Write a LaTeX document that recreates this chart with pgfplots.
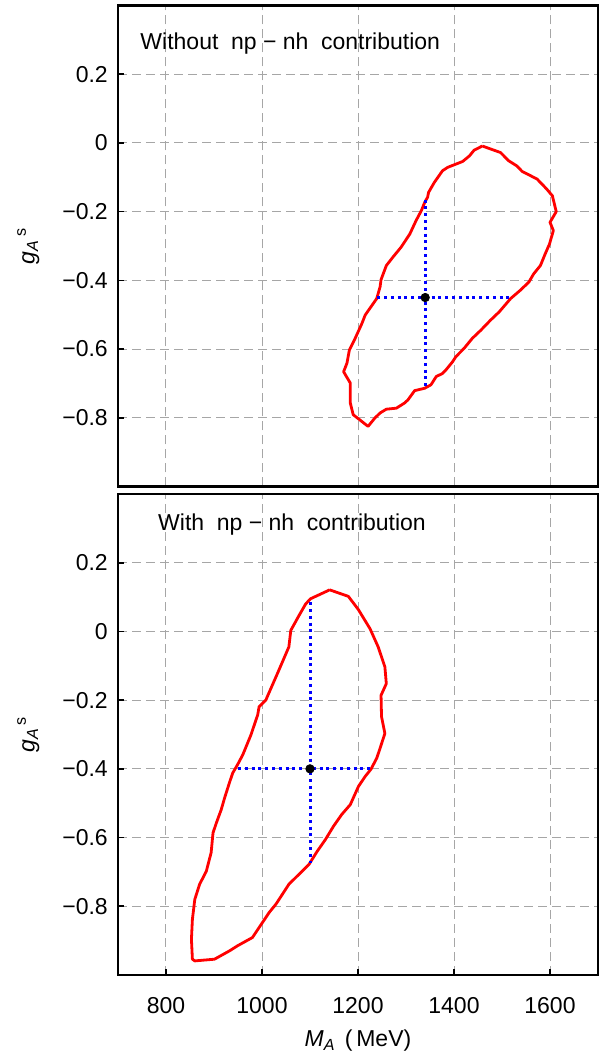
\documentclass[border=0pt]{standalone}
\usepackage{fontspec}
\setmainfont{Liberation Sans}
\usepackage{pgfplots}
\pgfplotsset{compat=1.18}

\newcommand{\lbl}{\fontsize{11.5}{13}\selectfont}

% shared look of both panels
\pgfplotsset{
  panel/.style={
    scale only axis,
    width=240pt, height=240.5pt,
    anchor=south west,
    xmin=700, xmax=1700, ymin=-1, ymax=0.4,
    xtick={800,1000,1200,1400,1600},
    xticklabels={800,1000,1200,1400,1600},
    ytick={-0.8,-0.6,-0.4,-0.2,0,0.2},
    yticklabels={−0.8,−0.6,−0.4,−0.2,0,0.2},
    tick align=inside,
    xtick pos=bottom, ytick pos=left,
    major tick length=3pt,
    tick style={black, line width=0.8pt},
    axis line style={line width=1.3pt},
    grid=major,
    major grid style={gray!70, line width=0.5pt, dash pattern=on 4.5pt off 2.5pt},
    tick label style={font=\lbl},
    yticklabel style={xshift=-1.6pt},
    xticklabel style={yshift=-7.5pt},
    ylabel={\itshape g\textsubscript{\itshape A}\upshape\textsuperscript{\,s}},
    ylabel style={font=\lbl, at={(axis description cs:-0.187,0.5)}, anchor=center},
    clip=false,
  },
  contour/.style={red, line width=1.4pt, line join=round},
  cross/.style={blue, line width=1.5pt, dash pattern=on 1.5pt off 1.9pt},
  best/.style={only marks, mark=*, mark size=2.1pt, black},
}

\begin{document}
\begin{tikzpicture}

% top panel: without np-nh
\begin{axis}[panel, at={(59pt,285.25pt)}, xticklabels={}, xtick style={draw=none}]
\addplot[contour] coordinates {
(1459,-0.009) (1497,-0.028) (1514,-0.052) (1531,-0.067) (1542,-0.083)
(1573,-0.105) (1593,-0.134) (1605,-0.154) (1613,-0.200) (1600,-0.231)
(1607,-0.255) (1599,-0.294) (1590,-0.323) (1580,-0.357) (1566,-0.381)
(1556,-0.405) (1538,-0.429) (1518,-0.453) (1494,-0.492) (1476,-0.516)
(1456,-0.545) (1438,-0.569) (1421,-0.598) (1404,-0.622) (1397,-0.637)
(1383,-0.661) (1376,-0.671) (1363,-0.680) (1352,-0.704) (1339,-0.714)
(1318,-0.721) (1304,-0.748) (1297,-0.757) (1280,-0.772) (1259,-0.775)
(1246,-0.786) (1235,-0.801) (1221,-0.825) (1190,-0.791) (1184,-0.757)
(1184,-0.699) (1170,-0.666) (1177,-0.641) (1182,-0.603) (1194,-0.569)
(1208,-0.526) (1215,-0.501) (1239,-0.453) (1246,-0.419) (1248,-0.398)
(1259,-0.357) (1273,-0.332) (1290,-0.303) (1308,-0.265) (1321,-0.226)
(1332,-0.197) (1339,-0.173) (1345,-0.158) (1347,-0.144) (1359,-0.115)
(1376,-0.081) (1387,-0.071) (1418,-0.054) (1432,-0.038) (1442,-0.021)
(1459,-0.009)};
\addplot[cross] coordinates {(1340,-0.165) (1340,-0.712)};
\addplot[cross] coordinates {(1240,-0.45) (1520,-0.45)};
\addplot[best] coordinates {(1340,-0.45)};
\node[anchor=west, inner sep=0pt, font=\lbl] at (axis cs:746,0.29)
  {Without\hspace{0.55em}np − nh\hspace{0.55em}contribution};
\end{axis}

% bottom panel: with np-nh
\begin{axis}[panel, at={(59pt,41pt)},
  xlabel={\itshape M\textsubscript{\itshape A}\upshape\hspace{0.4em}(\,MeV)},
  xlabel style={font=\lbl, at={(axis description cs:0.5,-0.137)}, anchor=center}]
\addplot[contour] coordinates {
(1141,0.121) (1180,0.102) (1201,0.063) (1225,0.008) (1242,-0.045)
(1256,-0.103) (1259,-0.152) (1248,-0.186) (1249,-0.248) (1256,-0.297)
(1246,-0.340) (1239,-0.369) (1227,-0.401) (1215,-0.422) (1201,-0.451)
(1184,-0.504) (1166,-0.533) (1149,-0.567) (1132,-0.606) (1115,-0.640)
(1098,-0.678) (1056,-0.736) (1029,-0.794) (1015,-0.818) (980,-0.891)
(949,-0.915) (932,-0.930) (901,-0.954) (860,-0.959) (855,-0.954)
(853,-0.896) (855,-0.838) (860,-0.780) (870,-0.736) (884,-0.698)
(894,-0.644) (898,-0.586) (905,-0.557) (915,-0.519) (922,-0.485)
(932,-0.441) (939,-0.412) (949,-0.388) (960,-0.359) (977,-0.301)
(991,-0.243) (994,-0.219) (1008,-0.200) (1011,-0.190) (1032,-0.123)
(1056,-0.045) (1060,0.003) (1077,0.046) (1091,0.080) (1101,0.095)
(1141,0.121)};
\addplot[cross] coordinates {(1100,0.085) (1100,-0.675)};
\addplot[cross] coordinates {(950,-0.40) (1227,-0.40)};
\addplot[best] coordinates {(1100,-0.40)};
\node[anchor=west, inner sep=0pt, font=\lbl] at (axis cs:783,0.31)
  {With\hspace{0.55em}np − nh\hspace{0.55em}contribution};
\end{axis}

\pgfresetboundingbox
\useasboundingbox (0,0) rectangle (299.5pt,528.5pt);
\end{tikzpicture}
\end{document}
